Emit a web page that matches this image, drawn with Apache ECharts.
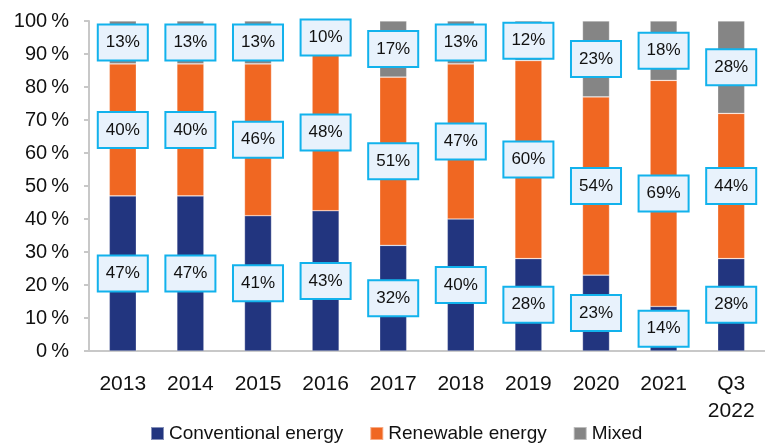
<!DOCTYPE html>
<html>
<head>
<meta charset="utf-8">
<script src="https://cdn.jsdelivr.net/npm/echarts@6/dist/echarts.min.js"></script>
<style>
  html, body { margin: 0; padding: 0; background: #fff; }
  #chart { width: 765px; height: 444px; }
</style>
</head>
<body>
<div id="chart"></div>
<script>
const categories = ['2013', '2014', '2015', '2016', '2017', '2018', '2019', '2020', '2021', 'Q3\n2022']
// shares in %, labels are rounded
const conventional = [47, 47, 41, 42.5, 32, 40, 28, 23, 13.5, 28]
const renewable = [40, 40, 46, 47.5, 51, 47, 60, 54, 68.5, 44]
const mixed = [13, 13, 13, 10, 17, 13, 12, 23, 18, 28]

const fontFamily = '"Liberation Sans", Arial, sans-serif'

const boxLabel = {
  show: true,
  position: 'inside',
  formatter: p => Math.round(p.value) + '%',
  color: '#111',
  fontSize: 17,
  fontFamily,
  backgroundColor: '#e8f2fc',
  borderColor: '#12b2ec',
  borderWidth: 2,
  padding: [9, 7, 8, 7]
}

const makeSeries = (name, data, color) => ({
  name,
  type: 'bar',
  stack: 'total',
  data,
  barWidth: 27,
  itemStyle: {color, borderColor: 'rgba(255,255,255,0.45)', borderWidth: 0.6},
  label: boxLabel
})

const chart = echarts.init(document.getElementById('chart'))
chart.setOption({
  backgroundColor: '#fff',
  animation: false,
  grid: {left: 89, top: 21, width: 682, height: 330},
  legend: {
    left: 150,
    top: 424,
    padding: 0,
    itemWidth: 13,
    itemHeight: 13,
    itemGap: 26,
    icon: 'rect',
    textStyle: {fontSize: 19, color: '#111', fontFamily},
    data: ['Conventional energy', 'Renewable energy', 'Mixed']
  },
  xAxis: {
    type: 'category',
    data: categories,
    axisLine: {lineStyle: {color: '#c8c8c8', width: 2}},
    axisTick: {show: false},
    axisLabel: {
      color: '#111',
      fontSize: 21,
      fontFamily,
      margin: 20,
      lineHeight: 27
    }
  },
  yAxis: {
    type: 'value',
    min: 0,
    max: 100,
    interval: 10,
    axisLine: {show: true, lineStyle: {color: '#c8c8c8', width: 2}},
    axisTick: {show: true, length: 5, lineStyle: {color: '#c8c8c8', width: 2}},
    splitLine: {show: false},
    axisLabel: {
      color: '#111',
      fontSize: 20,
      fontFamily,
      margin: 20,
      formatter: v => v + '\u2009%'
    }
  },
  series: [
    makeSeries('Conventional energy', conventional, '#22357f'),
    makeSeries('Renewable energy', renewable, '#f06722'),
    makeSeries('Mixed', mixed, '#858585')
  ]
})
</script>
</body>
</html>
